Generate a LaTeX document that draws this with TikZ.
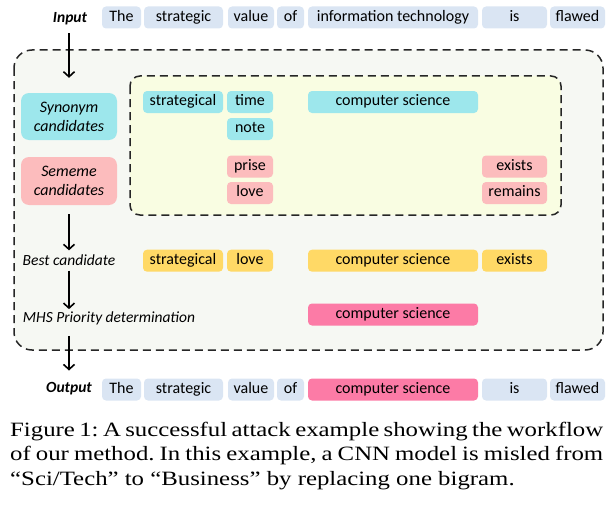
\documentclass[tikz,border=0pt]{standalone}
\usepackage{fontspec}
\setmainfont{Liberation Serif}
\newfontfamily\calfont{Carlito}
\usepackage{tikz}
\usetikzlibrary{arrows.meta,positioning}

\definecolor{tokblue}{HTML}{DAE5F3}
\definecolor{tokcyan}{HTML}{9DE7EC}
\definecolor{tokrose}{HTML}{FCBCBD}
\definecolor{tokgold}{HTML}{FFD966}
\definecolor{tokpink}{HTML}{FC7BA6}
\definecolor{outerbg}{HTML}{F6F8F3}
\definecolor{innerbg}{HTML}{F9FDE2}
\frenchspacing

\begin{document}
\begin{tikzpicture}[x=1pt, y=-1pt,
	tok/.style={rounded corners=4pt, inner sep=0pt, minimum height=22pt, text height=11pt, text depth=3.5pt, font=\calfont\fontsize{16}{19}\selectfont},
	cand/.style={rounded corners=8pt, inner sep=0pt, minimum width=96pt, align=center, font=\calfont\itshape\fontsize{16}{19}\selectfont},
	stage/.style={inner sep=0pt, font=\calfont\itshape\fontsize{15.5}{18}\selectfont},
	io/.style={inner sep=0pt, font=\calfont\bfseries\itshape\fontsize{15.5}{18}\selectfont},
	captext/.style={inner sep=0pt, anchor=base west, yscale=0.82, transform shape, font=\fontsize{24.8}{27}\selectfont},
	dashbox/.style={line width=1.5pt, draw=black!85, dash pattern=on 8pt off 5pt},
	>={Straight Barb[length=5pt,width=11pt]}]
	\useasboundingbox (0,0) rectangle (613,511);

	% dashed frames
	\draw[dashbox, fill=outerbg, rounded corners=18pt] (14,50) rectangle (603,350);
	\draw[dashbox, fill=innerbg, rounded corners=10pt] (130,76) rectangle (561,215);

	% input sentence
	\node[io] (inlab) at (70,19) {Input};
	\node[tok, fill=tokblue, minimum width=39pt] (in1) at (121.5,17.5) {The};
	\node[tok, fill=tokblue, minimum width=79pt] (in2) at (183.5,17.5) {strategic};
	\node[tok, fill=tokblue, minimum width=46pt] (in3) at (251,17.5) {value};
	\node[tok, fill=tokblue, minimum width=27pt] (in4) at (290.5,17.5) {of};
	\node[tok, fill=tokblue, minimum width=170pt] (in5) at (393,17.5) {information technology};
	\node[tok, fill=tokblue, minimum width=65pt] (in6) at (514.5,17.5) {is};
	\node[tok, fill=tokblue, minimum width=55pt] (in7) at (577.5,17.5) {flawed};

	% candidates
	\node[cand, fill=tokcyan, minimum height=47pt] (synlab) at (69,116.5) {Synonym\\candidates};
	\node[cand, fill=tokrose, minimum height=48pt] (semlab) at (69,181) {Sememe\\candidates};

	\node[tok, fill=tokcyan, minimum width=80pt] (syn1) at (183,102) {strategical};
	\node[tok, fill=tokcyan, minimum width=46pt] (syn2) at (250,102) {time};
	\node[tok, fill=tokcyan, minimum width=170pt] (syn3) at (393,102) {computer science};
	\node[tok, fill=tokcyan, minimum width=46pt] (syn4) at (250,129) {note};

	\node[tok, fill=tokrose, minimum width=46pt] (sem1) at (250,166.5) {prise};
	\node[tok, fill=tokrose, minimum width=65pt] (sem2) at (514.5,166.5) {exists};
	\node[tok, fill=tokrose, minimum width=46pt] (sem3) at (250,193) {love};
	\node[tok, fill=tokrose, minimum width=65pt] (sem4) at (514.5,193) {remains};

	% best candidate
	\node[stage] (bestlab) at (69,260) {Best candidate};
	\node[tok, fill=tokgold, minimum width=80pt] (best1) at (183,260.7) {strategical};
	\node[tok, fill=tokgold, minimum width=46pt] (best2) at (250,260.7) {love};
	\node[tok, fill=tokgold, minimum width=170pt] (best3) at (393,260.7) {computer science};
	\node[tok, fill=tokgold, minimum width=65pt] (best4) at (514.5,260.7) {exists};

	% priority
	\node[stage] (mhslab) at (109,318) {MHS Priority determination};
	\node[tok, fill=tokpink, minimum width=170pt] (mhs1) at (393,314.5) {computer science};

	% output sentence
	\node[io] (outlab) at (69,389) {Output};
	\node[tok, fill=tokblue, minimum width=39pt] (out1) at (121.5,389.5) {The};
	\node[tok, fill=tokblue, minimum width=79pt] (out2) at (183.5,389.5) {strategic};
	\node[tok, fill=tokblue, minimum width=46pt] (out3) at (251,389.5) {value};
	\node[tok, fill=tokblue, minimum width=27pt] (out4) at (290.5,389.5) {of};
	\node[tok, fill=tokpink, minimum width=170pt] (out5) at (393,389.5) {computer science};
	\node[tok, fill=tokblue, minimum width=65pt] (out6) at (514.5,389.5) {is};
	\node[tok, fill=tokblue, minimum width=55pt] (out7) at (577.5,389.5) {flawed};

	% flow
	\draw[->, line width=1.6pt, shorten <=8pt, shorten >=15pt] (inlab.south -| synlab.north) -- (synlab.north);
	\draw[->, line width=1.6pt, shorten <=9pt, shorten >=4pt] (semlab.south) -- (bestlab.north);
	\draw[->, line width=1.6pt, shorten <=5pt, shorten >=2pt] (bestlab.south) -- (bestlab.south |- mhslab.north);
	\draw[->, line width=1.6pt, shorten <=11pt, shorten >=12pt] (mhslab.south -| outlab.north) -- (outlab.north);

	% caption
	\node[captext] (cap1) at (10,436) {\makebox[593pt][s]{Figure 1: A successful attack example showing the workflow}};
	\node[captext] (cap2) at (10,460.7) {\makebox[593pt][s]{of our method. In this example, a CNN model is misled from}};
	\node[captext] (cap3) at (10,485.3) {``Sci/Tech'' to ``Business'' by replacing one bigram.};
\end{tikzpicture}
\end{document}
